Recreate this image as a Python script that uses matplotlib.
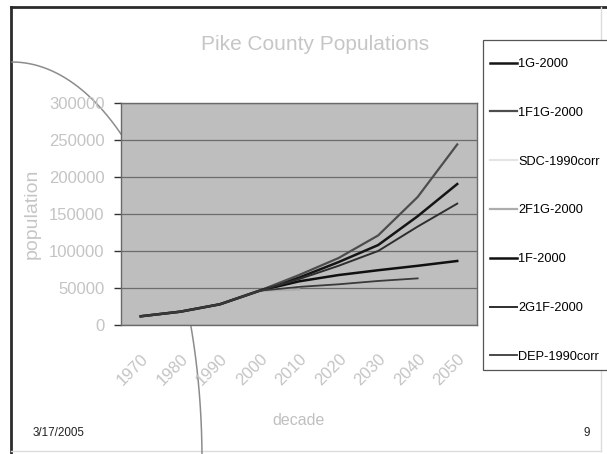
import numpy as np
import matplotlib
matplotlib.use("Agg")
import matplotlib.pyplot as plt
import matplotlib.transforms as mtransforms
from matplotlib.lines import Line2D
from matplotlib.patches import Rectangle

plt.rcParams['font.family'] = ['Liberation Sans', 'DejaVu Sans']

nan = np.nan
decades = ['1970', '1980', '1990', '2000', '2010', '2020', '2030', '2040', '2050']
history = [11800, 18000, 28000, 46300]

series_names = ['1G-2000', '1F1G-2000', 'SDC-1990corr', '2F1G-2000',
                '1F-2000', '2G1F-2000', 'DEP-1990corr']
g1_2000 = history + [64000, 85000, 108000, 147000, 190500]
f1g1_2000 = history + [67500, 90500, 121000, 173000, 244000]
sdc_1990 = history + [52000, nan, nan, nan, nan]
f2g1_2000 = history + [48000, nan, nan, nan, nan]
f1_2000 = history + [59000, 67500, 74000, 80000, 86500]
g2f1_2000 = history + [62000, 80000, 100000, 133000, 164000]
dep_1990 = history + [51500, 55000, 59500, 63000, nan]

series_values = [g1_2000, f1g1_2000, sdc_1990, f2g1_2000, f1_2000, g2f1_2000, dep_1990]
series_colors = ['#151515', '#4d4d4d', '#e4e4e4', '#adadad', '#101010', '#2e2e2e', '#3a3a3a']
series_widths = [1.8, 1.6, 1.5, 1.6, 1.8, 1.4, 1.3]

W, H = 607, 454
fig = plt.figure(figsize=(W / 100, H / 100), dpi=100)

# slide background: frame, decorative arc, title and footer (pixel coords)
bg = fig.add_axes([0, 0, 1, 1], zorder=0)
bg.set_xlim(0, W)
bg.set_ylim(H, 0)
bg.axis('off')
bg.plot([11, W], [7, 7], color='#2b2b2b', lw=2)
bg.plot([11, 11], [7, H], color='#2b2b2b', lw=2)
bg.plot([601, 601], [7, 451], color='#dcdcdc', lw=1)
bg.plot([11, 601], [451, 451], color='#dcdcdc', lw=1)
t = np.linspace(0, np.pi / 2, 200)
bg.plot(12 + 190 * np.sin(t), 460 - 398 * np.cos(t), color='#8c8c8c', lw=1.1)
# legend box, runs off the right edge of the slide
bg.add_patch(Rectangle((483, 40), 140, 330, facecolor='white',
                       edgecolor='#555555', lw=0.9, zorder=2))

bg.text(315, 45, 'Pike County Populations', ha='center', va='center',
        fontsize=15, color='#c6c6c6')
bg.text(33, 433, '3/17/2005', ha='left', va='center', fontsize=8.4, color='#222222')
bg.text(587, 433, '9', ha='center', va='center', fontsize=8.4, color='#222222')

# chart
ax = fig.add_axes([121 / W, (H - 325) / H, 356 / W, 222 / H], zorder=1)
ax.set_facecolor('#bebebe')
x = np.arange(len(decades))
for vals, name, col, lw in zip(series_values, series_names, series_colors, series_widths):
    ax.plot(x, vals, color=col, lw=lw, label=name, zorder=3)

ax.set_xlim(-0.5, len(decades) - 0.5)
ax.set_ylim(0, 300000)
ax.set_yticks(np.arange(0, 300001, 50000))
ax.set_yticklabels([f'{v:d}' for v in range(0, 300001, 50000)])
ax.set_xticks(x)
ax.set_xticklabels(decades, rotation=45, ha='right', rotation_mode='anchor')
shift = mtransforms.ScaledTranslation(-8 / 100, 0, fig.dpi_scale_trans)
for lbl in ax.get_xticklabels():
    lbl.set_transform(lbl.get_transform() + shift)
ax.grid(axis='y', color='#6c6c6c', lw=0.9, zorder=1)
ax.set_axisbelow(True)
ax.tick_params(axis='y', length=5, width=1, color='#333333', pad=7,
               labelsize=12, labelcolor='#c4c4c4')
ax.tick_params(axis='x', length=0, pad=19, labelsize=12, labelcolor='#c4c4c4')
for s in ax.spines.values():
    s.set_color('#6a6a6a')
    s.set_linewidth(1)
ax.set_ylabel('population', fontsize=14, color='#c6c6c6', labelpad=6)
ax.set_xlabel('decade', fontsize=11.5, color='#c0c0c0', labelpad=18)

handles = [Line2D([], [], color=c, lw=w) for c, w in zip(series_colors, series_widths)]
leg = fig.legend(handles, series_names, loc='upper left',
                 bbox_to_anchor=(490 / W, 1 - 58 / H), fontsize=9.2,
                 labelspacing=2.88, handlelength=2.1, handletextpad=0.1,
                 borderpad=0, borderaxespad=0, frameon=False)
leg.set_zorder(5)

fig.savefig('out.png', dpi=100)
